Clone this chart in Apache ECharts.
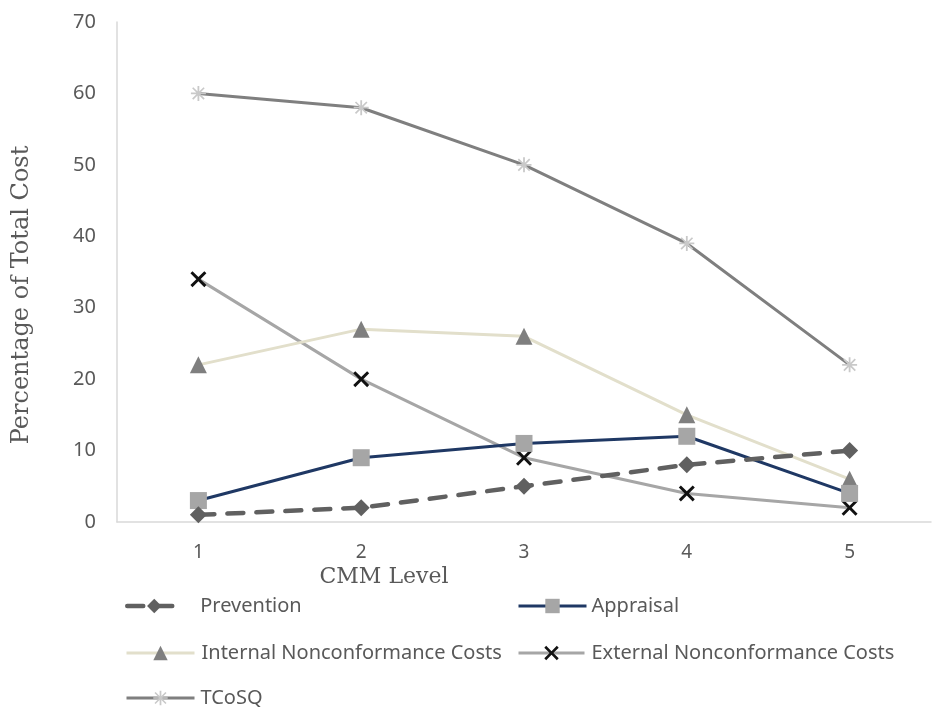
<!DOCTYPE html>
<html>
<head>
<meta charset="utf-8">
<script src="https://cdn.jsdelivr.net/npm/echarts@6/dist/echarts.min.js"></script>
<style>
  html, body { margin: 0; padding: 0; background: #ffffff; }
  #chart { width: 935px; height: 707px; }
</style>
</head>
<body>
<div id="chart"></div>
<script>
// CMM level categories and cost shares (% of total cost)
const levels = ['1', '2', '3', '4', '5'];
const prevention = [1, 2, 5, 8, 10];
const appraisal = [3, 9, 11, 12, 4];
const internalNC = [22, 27, 26, 15, 6];
const externalNC = [34, 20, 9, 4, 2];
const tcosq = [60, 58, 50, 39, 22];

const seriesNames = [
  'Prevention',
  'Appraisal',
  'Internal Nonconformance Costs',
  'External Nonconformance Costs',
  'TCoSQ'
];

// Marker shapes
const crossPath = 'path://M0,1.3L1.3,0L5,3.7L8.7,0L10,1.3L6.3,5L10,8.7L8.7,10L5,6.3L1.3,10L0,8.7L3.7,5Z';
const starPath = 'path://M4.4,0H5.6V10H4.4Z M0,4.4H10V5.6H0Z M0.8,1.6L1.6,0.8L9.2,8.4L8.4,9.2Z M8.4,0.8L9.2,1.6L1.6,9.2L0.8,8.4Z';

const textGrey = '#595959';
const sansFont = '"Noto Sans", "Open Sans", sans-serif';
const serifFont = '"DejaVu Serif", "Liberation Serif", serif';

const chart = echarts.init(document.getElementById('chart'), null, { renderer: 'canvas' });

function legendAt(name, left, top, itemWidth, textPad) {
  return {
    data: [name],
    left: left,
    top: top,
    itemWidth: itemWidth,
    itemHeight: 18,
    padding: 0,
    selectedMode: false,
    lineStyle: { width: 'inherit' },
    textStyle: {
      color: textGrey,
      fontFamily: sansFont,
      fontSize: 20,
      padding: [0, 0, 0, textPad]
    }
  };
}

const option = {
  backgroundColor: '#ffffff',
  animation: false,
  grid: { left: 117, right: 4, top: 22, bottom: 185, containLabel: false },
  xAxis: {
    type: 'category',
    data: levels,
    boundaryGap: true,
    axisLine: { show: true, lineStyle: { color: '#d9d9d9', width: 1.5 } },
    axisTick: { show: false },
    axisLabel: { color: textGrey, fontFamily: sansFont, fontSize: 19, margin: 21 },
    splitLine: { show: false }
  },
  yAxis: {
    type: 'value',
    min: 0,
    max: 70,
    interval: 10,
    axisLine: { show: true, lineStyle: { color: '#d9d9d9', width: 1.5 } },
    axisTick: { show: false },
    axisLabel: { color: textGrey, fontFamily: sansFont, fontSize: 20, margin: 21 },
    splitLine: { show: false }
  },
  legend: [
    legendAt(seriesNames[0], 125, 596, 54, 14),
    legendAt(seriesNames[1], 517, 596, 68, 0),
    legendAt(seriesNames[2], 125, 643, 68, 2),
    legendAt(seriesNames[3], 517, 643, 66, 2),
    legendAt(seriesNames[4], 125, 688, 68, 1)
  ],
  graphic: [
    {
      type: 'text',
      x: 22,
      y: 295,
      rotation: Math.PI / 2,
      style: {
        text: 'Percentage of Total Cost',
        fill: textGrey,
        font: '24px ' + serifFont,
        align: 'center',
        verticalAlign: 'middle'
      }
    },
    {
      type: 'text',
      x: 384,
      y: 577,
      style: {
        text: 'CMM Level',
        fill: textGrey,
        font: '22px ' + serifFont,
        align: 'center',
        verticalAlign: 'middle'
      }
    }
  ],
  series: [
    {
      name: seriesNames[4],
      type: 'line',
      data: tcosq,
      z: 2,
      symbol: starPath,
      symbolSize: 15,
      lineStyle: { color: '#7f7f7f', width: 3 },
      itemStyle: { color: '#c9c9c9' }
    },
    {
      name: seriesNames[3],
      type: 'line',
      data: externalNC,
      z: 3,
      symbol: crossPath,
      symbolSize: 16,
      lineStyle: { color: '#a6a6a6', width: 3 },
      itemStyle: { color: '#111111' }
    },
    {
      name: seriesNames[2],
      type: 'line',
      data: internalNC,
      z: 4,
      symbol: 'triangle',
      symbolSize: 17,
      lineStyle: { color: '#e2dfcb', width: 3 },
      itemStyle: { color: '#7f7f7f' }
    },
    {
      name: seriesNames[1],
      type: 'line',
      data: appraisal,
      z: 5,
      symbol: 'rect',
      symbolSize: 17,
      lineStyle: { color: '#1f3864', width: 3 },
      itemStyle: { color: '#a6a6a6' }
    },
    {
      name: seriesNames[0],
      type: 'line',
      data: prevention,
      z: 6,
      symbol: 'diamond',
      symbolSize: 17,
      lineStyle: { color: '#606060', width: 4.5, type: [16, 13], cap: 'round' },
      itemStyle: { color: '#606060' }
    }
  ]
};

chart.setOption(option);
</script>
</body>
</html>
